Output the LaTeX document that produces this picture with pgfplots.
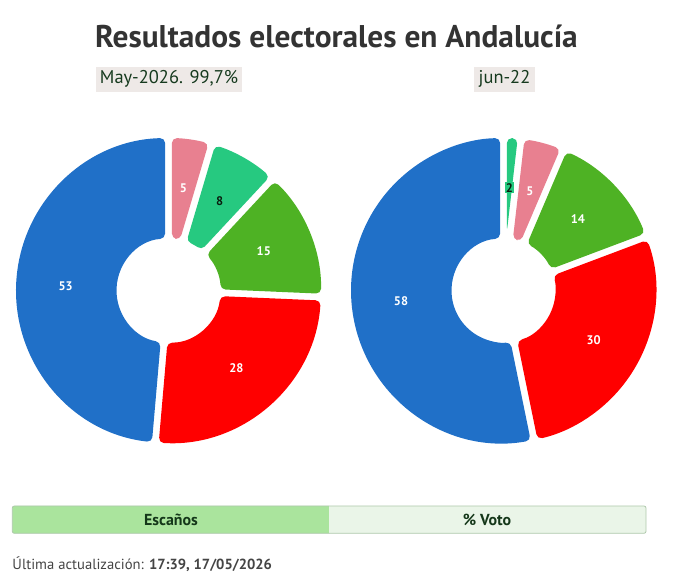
\documentclass[border=0pt]{standalone}
\usepackage{pgfplots}
\pgfplotsset{compat=1.18}
\usepackage{pgfplotstable}
\usepackage{fontspec}
\setmainfont{PT Sans}
\definecolor{cblue}{RGB}{32,112,200}
\definecolor{cpink}{RGB}{232,128,144}
\definecolor{cteal}{RGB}{38,201,128}
\definecolor{cgreen}{RGB}{78,178,36}
\definecolor{cred}{RGB}{255,0,0}
\definecolor{labdark}{RGB}{10,30,15}
\definecolor{titlegray}{RGB}{51,51,51}
\definecolor{subbg}{RGB}{238,233,231}
\definecolor{subtext}{RGB}{22,58,30}
\definecolor{barl}{RGB}{170,228,157}
\definecolor{barr}{RGB}{234,245,232}
\definecolor{barborder}{RGB}{175,200,172}
\definecolor{bartext}{RGB}{20,55,25}
\definecolor{foot}{RGB}{68,68,68}

% seats per party, clockwise from 12 o'clock
\pgfplotstableread{
seats col lab lbg
5 cpink white none
8 cteal labdark none
15 cgreen white none
28 cred white none
53 cblue white none
}\datamay
\pgfplotstableread{
seats col lab lbg
2 cteal labdark cteal
5 cpink white none
14 cgreen white none
30 cred white none
58 cblue white none
}\datajun

\def\Ro{152.5}\def\Ri{52}\def\hg{3.4}\def\Rl{103}

\newcommand\drawdonut[3]{%
 \pgfplotstablegetrowsof{#1}\pgfmathtruncatemacro\lastrow{\pgfplotsretval-1}%
 \gdef\tot{0}%
 \pgfplotsforeachungrouped \i in {0,...,\lastrow}{%
   \pgfplotstablegetelem{\i}{seats}\of#1%
   \pgfmathparse{\tot+\pgfplotsretval}\xdef\tot{\pgfmathresult}}%
 \gdef\cum{0}%
 \pgfplotsforeachungrouped \i in {0,...,\lastrow}{%
   \pgfplotstablegetelem{\i}{seats}\of#1\edef\v{\pgfplotsretval}%
   \pgfplotstablegetelem{\i}{col}\of#1\edef\col{\pgfplotsretval}%
   \pgfplotstablegetelem{\i}{lab}\of#1\edef\lc{\pgfplotsretval}%
   \pgfplotstablegetelem{\i}{lbg}\of#1\edef\lb{\pgfplotsretval}%
   \pgfmathsetmacro\ta{\cum/\tot*360}%
   \pgfmathsetmacro\tb{(\cum+\v)/\tot*360}%
   \pgfmathparse{\cum+\v}\xdef\cum{\pgfmathresult}%
   \pgfmathsetmacro\tm{(\ta+\tb)/2}%
   \pgfmathsetmacro\dR{asin(\hg/\Ro)}%
   \pgfmathsetmacro\dr{asin(\hg/\Ri)}%
   \pgfmathsetmacro\rtip{\hg/sin((\tb-\ta)/2)}%
   \pgfmathsetmacro\oa{\ta+\dR}\pgfmathsetmacro\ob{\tb-\dR}%
   \pgfmathsetmacro\ia{\ta+\dr}\pgfmathsetmacro\ib{\tb-\dr}%
   \pgfmathparse{\rtip>\Ri?1:0}%
   \ifdim\pgfmathresult pt>0.5pt
     \pgfmathsetmacro\rm{(\rtip+\Ro)/2}%
     \fill[\col, rounded corners=5bp]
       (axis cs:{#2+\rm*sin(\ta)+\hg*cos(\ta)},{#3+\rm*cos(\ta)-\hg*sin(\ta)})
       -- (axis cs:{#2+\Ro*sin(\oa)},{#3+\Ro*cos(\oa)})
       arc[start angle={90-\oa}, end angle={90-\ob}, radius=\Ro bp]
       -- (axis cs:{#2+\rtip*sin(\tm)},{#3+\rtip*cos(\tm)})
       -- cycle;
   \else
     \pgfmathsetmacro\rm{(\Ri+\Ro)/2}%
     \fill[\col, rounded corners=5bp]
       (axis cs:{#2+\rm*sin(\ta)+\hg*cos(\ta)},{#3+\rm*cos(\ta)-\hg*sin(\ta)})
       -- (axis cs:{#2+\Ro*sin(\oa)},{#3+\Ro*cos(\oa)})
       arc[start angle={90-\oa}, end angle={90-\ob}, radius=\Ro bp]
       -- (axis cs:{#2+\Ri*sin(\ib)},{#3+\Ri*cos(\ib)})
       arc[start angle={90-\ib}, end angle={90-\ia}, radius=\Ri bp]
       -- cycle;
   \fi
   \node[font=\bfseries\fontsize{12.5}{14}\selectfont, text=\lc, fill=\lb, inner sep=1.2bp]
     at (axis cs:{#2+\Rl*sin(\tm)},{#3+\Rl*cos(\tm)}) {\v};
 }%
}

\begin{document}
\begin{tikzpicture}
\path[use as bounding box] (0,0) rectangle (676bp,580bp);
\begin{axis}[at={(0,0)}, anchor=south west, scale only axis,
  width=676bp, height=580bp, xmin=0, xmax=676, ymin=0, ymax=580,
  hide axis, clip=false]
\pgfplotsextra{%
  \drawdonut{\datamay}{168.5}{289.5}%
  \drawdonut{\datajun}{503.5}{289.5}%
  % title and subtitles
  \node[anchor=base, font=\bfseries\fontsize{31.5}{36}\selectfont, text=titlegray]
    at (axis cs:336.5,532.7) {Resultados electorales en Andalucía};
  \node[fill=subbg, text=subtext, minimum width=146bp, minimum height=25bp, inner sep=0pt,
    font=\fontsize{18.5}{20}\selectfont] at (axis cs:169,500.8) {May-2026. 99,7\%};
  \node[fill=subbg, text=subtext, minimum width=61bp, minimum height=25bp, inner sep=0pt,
    font=\fontsize{18.5}{20}\selectfont] at (axis cs:504.5,500.8) {jun-22};
  % toggle bar
  \fill[barr, rounded corners=2bp] (axis cs:12.3,74) rectangle (axis cs:646,46.7);
  \fill[barl, rounded corners=2bp] (axis cs:12.3,74) rectangle (axis cs:331,46.7);
  \fill[barr] (axis cs:329,74) rectangle (axis cs:333,46.7);
  \draw[barborder, line width=0.8bp, rounded corners=2bp] (axis cs:12.3,74) rectangle (axis cs:646,46.7);
  \node[font=\bfseries\fontsize{16}{18}\selectfont, text=bartext] at (axis cs:171,60.3) {Escaños};
  \node[font=\bfseries\fontsize{16}{18}\selectfont, text=bartext] at (axis cs:487,60.3) {\% Voto};
  % footer
  \node[anchor=base west, inner sep=0pt, font=\fontsize{14.7}{16}\selectfont, text=foot]
    at (axis cs:12.3,10) {Última actualización: \textbf{17:39, 17/05/2026}};
}
\end{axis}
\end{tikzpicture}
\end{document}
